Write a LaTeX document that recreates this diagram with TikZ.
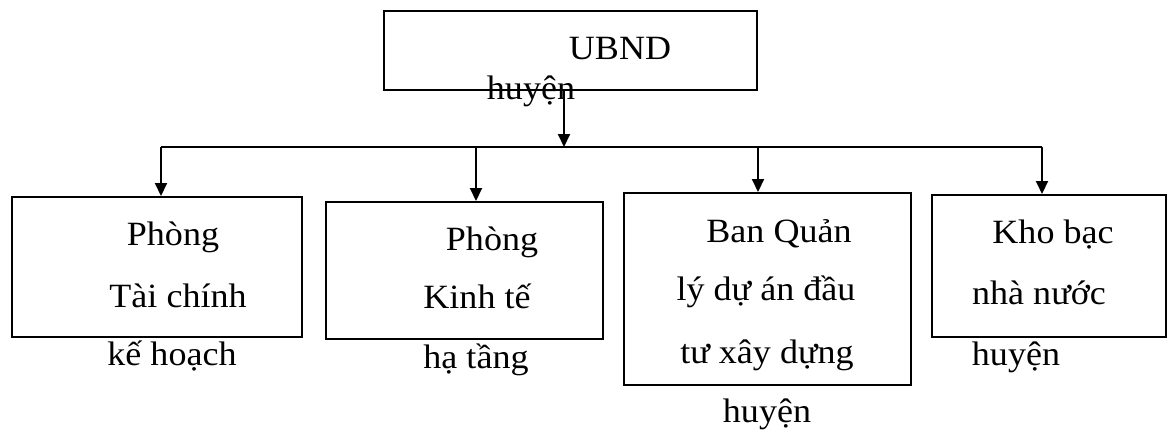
\documentclass[tikz,border=0pt]{standalone}
\usepackage{fontspec}
\setmainfont{Liberation Serif}[FakeStretch=1.06]
\usetikzlibrary{arrows.meta,positioning,calc}

\begin{document}
\begin{tikzpicture}[
    x=1pt, y=-1pt,
    unit/.style={draw, line width=2pt, inner sep=0pt},
    txt/.style={anchor=base, inner sep=0pt, font=\fontsize{34}{40}\selectfont},
    arr/.style={-{Triangle[length=13pt, width=12pt]}, line width=2pt},
    bus/.style={line width=2pt}
]
\useasboundingbox (0,0) rectangle (1175,432);

% khung cap tren
\node[unit, minimum width=373pt, minimum height=79pt] (ubnd) at (570.5,50.5) {};
\node[txt] (ubndA) at (620,59) {UBND};
\node[txt] (ubndB) at (531,99) {huyện};

% cac don vi truc thuoc
\node[unit, minimum width=290pt, minimum height=140pt] (ptc) at (157,267) {};
\node[unit, minimum width=277pt, minimum height=137pt] (pkt) at (464.5,270.5) {};
\node[unit, minimum width=287pt, minimum height=192pt] (bql) at (767.5,289) {};
\node[unit, minimum width=234pt, minimum height=142pt] (kbnn) at (1049,266) {};

\node[txt] (ptcA) at (173,245) {Phòng};
\node[txt] (ptcB) at (178,307) {Tài chính};
\node[txt] (ptcC) at (172,365) {kế hoạch};

\node[txt] (pktA) at (492,250) {Phòng};
\node[txt] (pktB) at (477,308) {Kinh tế};
\node[txt] (pktC) at (476,368) {hạ tầng};

\node[txt] (bqlA) at (779,242) {Ban Quản};
\node[txt] (bqlB) at (766,300) {lý dự án đầu};
\node[txt] (bqlC) at (767,363) {tư xây dựng};
\node[txt] (bqlD) at (767,422) {huyện};

\node[txt] (kbnnA) at (1053,243) {Kho bạc};
\node[txt] (kbnnB) at (1039,304) {nhà nước};
\node[txt] (kbnnC) at (1016,365) {huyện};

% duong phan nhanh
\coordinate (jt) at (564,147);
\coordinate (j1) at (161,147);
\coordinate (j2) at (476,147);
\coordinate (j3) at (758,147);
\coordinate (j4) at (1042,147);

\draw[arr] (jt |- ubnd.south) -- (jt);
\draw[bus] (j1) -- (j4);
\draw[arr] (j1) -- (j1 |- ptc.north);
\draw[arr] (j2) -- (j2 |- pkt.north);
\draw[arr] (j3) -- (j3 |- bql.north);
\draw[arr] (j4) -- (j4 |- kbnn.north);
\end{tikzpicture}
\end{document}
